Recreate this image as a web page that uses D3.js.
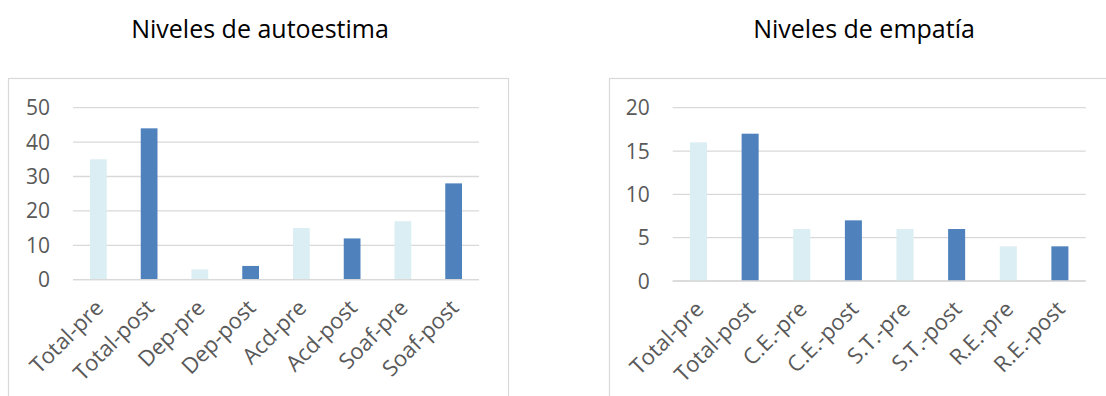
<!DOCTYPE html>
<html>
<head>
<meta charset="utf-8">
<script src="https://cdn.jsdelivr.net/npm/d3@7"></script>
<style>
  html, body { margin: 0; padding: 0; background: #fff; }
  svg { display: block; }
  .title { font-family: "Open Sans", sans-serif; fill: #000; }
  .tick-label { font-family: "Open Sans", sans-serif; fill: #595959; }
</style>
</head>
<body>
<svg id="chart" width="1106" height="396"></svg>
<script>
// Autoestima panel
const autoCategories = ["Total-pre", "Total-post", "Dep-pre", "Dep-post", "Acd-pre", "Acd-post", "Soaf-pre", "Soaf-post"];
const autoValues = [35, 44, 3, 4, 15, 12, 17, 28];
const autoTicks = [0, 10, 20, 30, 40, 50];

// Empatía panel
const empCategories = ["Total-pre", "Total-post", "C.E.-pre", "C.E.-post", "S.T.-pre", "S.T.-post", "R.E.-pre", "R.E.-post"];
const empValues = [16, 17, 6, 7, 6, 6, 4, 4];
const empTicks = [0, 5, 10, 15, 20];

const preColor = "#DAEEF3";
const postColor = "#4F81BD";
const gridColor = "#D9D9D9";

const svg = d3.select("#chart");

function drawPanel(opts) {
  const g = svg.append("g");

  // outer frame
  g.append("rect")
    .attr("x", opts.frame[0]).attr("y", opts.frame[1])
    .attr("width", opts.frame[2]).attr("height", opts.frame[3])
    .attr("fill", "none").attr("stroke", gridColor).attr("stroke-width", 1.2);

  // title
  g.append("text").attr("class", "title")
    .attr("x", opts.titleX).attr("y", 38)
    .attr("text-anchor", "middle")
    .attr("font-size", 25)
    .text(opts.title);

  const x = d3.scaleBand()
    .domain(opts.categories)
    .range([opts.left, opts.right])
    .paddingInner(0.67)
    .paddingOuter(0.335);

  const y = d3.scaleLinear()
    .domain([0, opts.max])
    .range([opts.bottom, opts.top]);

  // horizontal gridlines
  g.append("g").selectAll("line")
    .data(opts.ticks)
    .join("line")
    .attr("x1", opts.left).attr("x2", opts.right)
    .attr("y1", d => y(d)).attr("y2", d => y(d))
    .attr("stroke", gridColor).attr("stroke-width", 1.3);

  // y tick labels
  g.append("g").selectAll("text")
    .data(opts.ticks)
    .join("text").attr("class", "tick-label")
    .attr("x", opts.left - 23)
    .attr("y", d => y(d))
    .attr("dy", "0.36em")
    .attr("text-anchor", "end")
    .attr("font-size", 21)
    .text(d => d);

  // bars
  g.append("g").selectAll("rect")
    .data(opts.values)
    .join("rect")
    .attr("x", (d, i) => x(opts.categories[i]))
    .attr("width", x.bandwidth())
    .attr("y", d => y(d))
    .attr("height", d => y(0) - y(d))
    .attr("fill", (d, i) => i % 2 === 0 ? preColor : postColor);

  // redraw baseline over bars
  g.append("line")
    .attr("x1", opts.left).attr("x2", opts.right)
    .attr("y1", y(0)).attr("y2", y(0))
    .attr("stroke", gridColor).attr("stroke-width", 1.3);

  // rotated category labels
  g.append("g").selectAll("text")
    .data(opts.categories)
    .join("text").attr("class", "tick-label")
    .attr("font-size", 22)
    .attr("text-anchor", "end")
    .attr("transform", d => {
      const cx = x(d) + x.bandwidth() / 2 + 1;
      const cy = opts.bottom + 24;
      return `translate(${cx},${cy}) rotate(-45)`;
    })
    .attr("dy", "0.35em")
    .text(d => d);
}

drawPanel({
  frame: [8.5, 78.5, 500, 330],
  title: "Niveles de autoestima",
  titleX: 260,
  categories: autoCategories,
  values: autoValues,
  ticks: autoTicks,
  max: 50,
  left: 73, right: 479, top: 107.7, bottom: 279.7
});

drawPanel({
  frame: [609.5, 78.5, 510, 330],
  title: "Niveles de empatía",
  titleX: 864,
  categories: empCategories,
  values: empValues,
  ticks: empTicks,
  max: 20,
  left: 672.7, right: 1085.7, top: 107.7, bottom: 281
});
</script>
</body>
</html>
